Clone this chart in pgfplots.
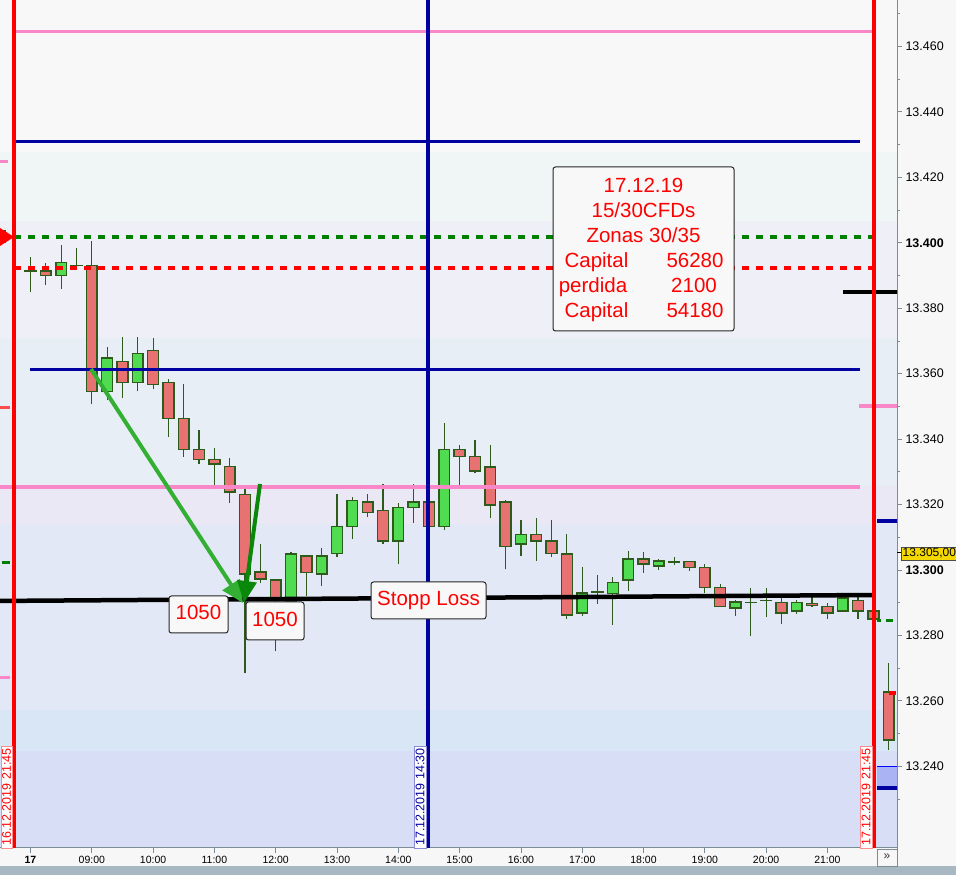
\documentclass[border=0pt]{standalone}
\usepackage{pgfplots}
\pgfplotsset{compat=1.18}
\usepackage{pgfplotstable}
\usepackage{fontspec}
\setmainfont{Liberation Sans}
\usetikzlibrary{arrows.meta}

\definecolor{wick}{HTML}{2E5A1C}
\definecolor{edge}{HTML}{2E5A1C}
\definecolor{rbody}{HTML}{E87272}
\definecolor{gbody}{HTML}{50DC50}
\definecolor{navy}{HTML}{0000A0}
\definecolor{pinkl}{HTML}{FA88C8}
\definecolor{dgreen}{HTML}{008000}
\definecolor{agreen}{HTML}{33B033}
\definecolor{agreen2}{HTML}{0A880A}
\definecolor{axgray}{HTML}{7C8C96}
\definecolor{bgc}{HTML}{F7F7F7}
\definecolor{toolbar}{HTML}{A8B8C2}
\definecolor{bone}{HTML}{F8F8F8}
\definecolor{btwo}{HTML}{EFF6F5}
\definecolor{bthree}{HTML}{EFEFF7}
\definecolor{bfour}{HTML}{E8EEF6}
\definecolor{bfive}{HTML}{EBE8F5}
\definecolor{bsix}{HTML}{E2E8F6}
\definecolor{bseven}{HTML}{D9E6F6}
\definecolor{beight}{HTML}{D8DEF6}
\definecolor{lblue}{HTML}{AAB4F4}
\definecolor{ylab}{HTML}{F5D800}
\definecolor{boxfill}{HTML}{F8F8F8}

\newcommand{\fsY}{\fontsize{12.5}{14}\selectfont}
\newcommand{\fsX}{\fontsize{10.5}{12}\selectfont}
\newcommand{\fsInfo}{\fontsize{20.5}{24}\selectfont}
\newcommand{\fsDate}{\fontsize{12.5}{14}\selectfont}

\pgfplotstableread{
t O H L C
7.50 13.4037 13.4045 13.3995 13.4000
8.00 13.3913 13.3956 13.3849 13.3913
8.25 13.3914 13.3937 13.3870 13.3900
8.50 13.3900 13.3992 13.3859 13.3940
8.75 13.3930 13.3985 13.3921 13.3930
9.00 13.3930 13.4005 13.3506 13.3546
9.25 13.3546 13.3681 13.3518 13.3647
9.50 13.3637 13.3711 13.3526 13.3573
9.75 13.3573 13.3711 13.3546 13.3662
10.00 13.3671 13.3708 13.3552 13.3567
10.25 13.3573 13.3585 13.3407 13.3463
10.50 13.3463 13.3568 13.3346 13.3368
10.75 13.3368 13.3427 13.3323 13.3338
11.00 13.3338 13.3372 13.3246 13.3324
11.25 13.3316 13.3341 13.3204 13.3239
11.50 13.3231 13.3246 13.2685 13.2988
11.75 13.2993 13.3079 13.2961 13.2972
12.00 13.2969 13.2972 13.2751 13.2908
12.25 13.2903 13.3054 13.2900 13.3049
12.50 13.3042 13.3042 13.2919 13.2993
12.75 13.2987 13.3067 13.2952 13.3042
13.00 13.3050 13.3231 13.3039 13.3133
13.25 13.3133 13.3222 13.3094 13.3213
13.50 13.3207 13.3231 13.3161 13.3176
13.75 13.3182 13.3262 13.3080 13.3089
14.00 13.3089 13.3204 13.3017 13.3191
14.25 13.3191 13.3262 13.3143 13.3207
14.50 13.3207 13.3215 13.3125 13.3133
14.75 13.3133 13.3448 13.3121 13.3368
15.00 13.3368 13.3381 13.3260 13.3347
15.25 13.3347 13.3396 13.3297 13.3303
15.50 13.3314 13.3381 13.3158 13.3198
15.75 13.3207 13.3213 13.3002 13.3072
16.00 13.3080 13.3152 13.3042 13.3109
16.25 13.3109 13.3158 13.3027 13.3089
16.50 13.3088 13.3152 13.3039 13.3050
16.75 13.3048 13.3110 13.2851 13.2862
17.00 13.2868 13.3009 13.2860 13.2929
17.25 13.2932 13.2985 13.2897 13.2932
17.50 13.2928 13.2979 13.2833 13.2962
17.75 13.2969 13.3058 13.2937 13.3033
18.00 13.3033 13.3055 13.2992 13.3019
18.25 13.3013 13.3033 13.3001 13.3027
18.50 13.3025 13.3040 13.3016 13.3025
18.75 13.3026 13.3026 13.2998 13.3008
19.00 13.3008 13.3017 13.2931 13.2947
19.25 13.2947 13.2957 13.2889 13.2889
19.50 13.2884 13.2907 13.2860 13.2902
19.75 13.2901 13.2944 13.2797 13.2901
20.00 13.2907 13.2944 13.2857 13.2907
20.25 13.2901 13.2917 13.2836 13.2868
20.50 13.2874 13.2907 13.2867 13.2901
20.75 13.2898 13.2917 13.2887 13.2892
21.00 13.2889 13.2898 13.2851 13.2868
21.25 13.2874 13.2917 13.2874 13.2914
21.50 13.2907 13.2917 13.2851 13.2874
21.75 13.2874 13.2874 13.2850 13.2850
22.00 13.2627 13.2716 13.2450 13.2481
}\candles

\pgfplotsset{
  common/.style={width=897pt, height=848pt, scale only axis,
    at={(0pt,0pt)}, anchor=south west, enlargelimits=false,
    xmin=7.50245, xmax=22.1354, ymin=13.21505, ymax=13.47417},
}

\begin{document}
\begin{tikzpicture}[x=1pt,y=1pt]
\fill[bgc] (0,-27) rectangle (956,848);
\fill[toolbar] (0,-27) rectangle (956,-18);

% --- background bands, wicks and open ticks (dojis)
\begin{axis}[common, hide axis]
\fill[bone]   (axis cs:7.4,13.42772) rectangle (axis cs:22.2,13.48);
\fill[btwo]   (axis cs:7.4,13.40664) rectangle (axis cs:22.2,13.42772);
\fill[bthree] (axis cs:7.4,13.37089) rectangle (axis cs:22.2,13.40664);
\fill[bfour]  (axis cs:7.4,13.32567) rectangle (axis cs:22.2,13.37089);
\fill[bfive]  (axis cs:7.4,13.31406) rectangle (axis cs:22.2,13.32567);
\fill[bsix]   (axis cs:7.4,13.25722) rectangle (axis cs:22.2,13.31406);
\fill[bseven] (axis cs:7.4,13.24469) rectangle (axis cs:22.2,13.25722);
\fill[beight] (axis cs:7.4,13.21)    rectangle (axis cs:22.2,13.24469);
\addplot[draw=none, mark=none, forget plot,
  error bars/.cd, y dir=plus, y explicit, error mark=none,
  error bar style={draw=wick, solid, line width=1.2pt}]
  table[x=t, y=L, y error expr=\thisrow{H}-\thisrow{L}] {\candles};
\addplot[draw=none, mark=none, forget plot,
  error bars/.cd, x dir=both, x fixed=0.1003, error mark=none,
  error bar style={draw=edge, solid, line width=1.6pt}]
  table[x=t, y=O] {\candles};
\end{axis}

% --- candle bodies
\begin{axis}[common, hide axis, ybar stacked, bar width=10.8pt]
\addplot[draw=none, fill=none, forget plot]
  table[x=t, y expr={min(\thisrow{O},\thisrow{C})}] {\candles};
\addplot[fill=rbody, draw=edge, line width=1.5pt]
  table[x=t, y expr={max(\thisrow{O}-\thisrow{C},0)}] {\candles};
\addplot[fill=gbody, draw=edge, line width=1.5pt]
  table[x=t, y expr={max(\thisrow{C}-\thisrow{O},0)}] {\candles};
\end{axis}

% --- front: levels, markers, axes
\begin{axis}[common,
  axis x line*=bottom, axis y line*=right,
  axis line style={draw=axgray, line width=1pt},
  tick align=outside, major tick length=5pt, minor tick length=3pt,
  tick style={draw=axgray, line width=0.8pt},
  xtick={8,9,10,11,12,13,14,15,16,17,18,19,20,21},
  xticklabels={\textbf{17},09:00,10:00,11:00,12:00,13:00,14:00,15:00,16:00,17:00,18:00,19:00,20:00,21:00},
  xticklabel style={font=\fsX},
  ytick={13.24,13.26,13.28,13.30,13.32,13.34,13.36,13.38,13.40,13.42,13.44,13.46},
  yticklabels={13.240,13.260,13.280,\textbf{13.300},13.320,13.340,13.360,13.380,\textbf{13.400},13.420,13.440,13.460},
  minor ytick={13.23,13.25,13.27,13.29,13.31,13.33,13.35,13.37,13.39,13.41,13.43,13.45,13.47},
  yticklabel style={font=\fsY, anchor=west},
]
\fill[lblue] (axis cs:21.808,13.23369) rectangle (axis cs:22.2,13.2398);
\addplot[blue, line width=1pt] coordinates {(21.808,13.2398) (22.2,13.2398)};
\addplot[pinkl, line width=3.5pt] coordinates {(7.731,13.4646) (21.777,13.4646)};
\addplot[navy, line width=3.5pt] coordinates {(7.731,13.4310) (21.532,13.4310)};
\addplot[dgreen, line width=3.5pt, dash pattern=on 7pt off 7pt] coordinates {(7.731,13.4017) (21.777,13.4017)};
\addplot[red, line width=3.5pt, dash pattern=on 7pt off 7pt] coordinates {(7.731,13.3922) (21.777,13.3922)};
\addplot[navy, line width=3.5pt] coordinates {(7.992,13.3612) (21.532,13.3612)};
\addplot[pinkl, line width=3.5pt] coordinates {(7.40,13.3253) (21.532,13.3253)};
\addplot[black, line width=4.5pt] coordinates {(7.40,13.29053) (21.777,13.29236)};
\addplot[pinkl, line width=3pt] coordinates {(7.40,13.42497) (7.64,13.42497)};
\addplot[red!70, line width=3pt] coordinates {(7.40,13.3495) (7.66,13.3495)};
\addplot[dgreen, line width=3pt] coordinates {(7.53,13.30244) (7.66,13.30244)};
\addplot[pinkl, line width=3pt] coordinates {(7.40,13.2673) (7.66,13.2673)};
\addplot[black, line width=3.5pt] coordinates {(21.254,13.3849) (22.2,13.3849)};
\addplot[pinkl, line width=3.5pt] coordinates {(21.515,13.3501) (22.2,13.3501)};
\addplot[navy, line width=3.5pt] coordinates {(21.808,13.3150) (22.2,13.3150)};
\addplot[navy, line width=3.5pt] coordinates {(21.808,13.2334) (22.2,13.2334)};
\addplot[dgreen, line width=3pt] coordinates {(21.808,13.2847) (21.873,13.2847)};
\addplot[dgreen, line width=3pt] coordinates {(21.955,13.2847) (22.069,13.2847)};
\addplot[red, line width=4pt] coordinates {(7.731,13.20) (7.731,13.48)};
\addplot[navy, line width=3.5pt] coordinates {(14.485,13.20) (14.485,13.48)};
\addplot[red, line width=4pt] coordinates {(21.76,13.20) (21.76,13.48)};
\end{axis}

% --- annotations in pixel coordinates (y down)
\begin{scope}[shift={(0,848)}, yscale=-1]
\fill[red] (889,691) rectangle (896,695);
\fill[red] (0,228) -- (14,237) -- (0,246) -- cycle;
\draw[agreen, line width=4pt, -{Triangle[length=22pt,width=20pt]}] (91,369) -- (243,603);
\draw[agreen2, line width=4pt, -{Triangle[length=22pt,width=19pt]}] (260,484) -- (244,603);
\draw[rounded corners=2.5pt, fill=boxfill, draw=black!85, line width=1pt] (169,596) rectangle (228,633);
\node[anchor=base, text=red, font=\fsInfo, inner sep=0pt] at (198.5,620) {1050};
\draw[rounded corners=2.5pt, fill=boxfill, draw=black!85, line width=1pt] (246,602) rectangle (304,640);
\node[anchor=base, text=red, font=\fsInfo, inner sep=0pt] at (275,626.5) {1050};
\draw[rounded corners=2.5pt, fill=boxfill, draw=black!85, line width=1pt] (371,582) rectangle (486,619);
\node[anchor=base, text=red, font=\fsInfo, inner sep=0pt] at (428.5,606) {Stopp Loss};
\draw[rounded corners=2.5pt, fill=boxfill, draw=black!85, line width=1pt] (553,167) rectangle (734,331);
\node[anchor=base, text=red, font=\fsInfo, inner sep=0pt] at (643.5,193) {17.12.19};
\node[anchor=base, text=red, font=\fsInfo, inner sep=0pt] at (643.5,218) {15/30CFDs};
\node[anchor=base, text=red, font=\fsInfo, inner sep=0pt] at (643.5,243) {Zonas 30/35};
\node[anchor=base, text=red, font=\fsInfo, inner sep=0pt] at (596.5,268) {Capital};
\node[anchor=base, text=red, font=\fsInfo, inner sep=0pt] at (695,268) {56280};
\node[anchor=base, text=red, font=\fsInfo, inner sep=0pt] at (593,293) {perdida};
\node[anchor=base, text=red, font=\fsInfo, inner sep=0pt] at (694,293) {2100};
\node[anchor=base, text=red, font=\fsInfo, inner sep=0pt] at (596.5,317.5) {Capital};
\node[anchor=base, text=red, font=\fsInfo, inner sep=0pt] at (695,317.5) {54180};
\node[rotate=90, anchor=south west, draw=red!45, fill=white, text=red, font=\fsDate, inner xsep=2pt, inner ysep=1.2pt, minimum width=90pt] at (12.5,848) {16.12.2019 21:45};
\node[rotate=90, anchor=south west, draw=navy!45, fill=white, text=navy, font=\fsDate, inner xsep=2pt, inner ysep=1.2pt, minimum width=90pt] at (426,848) {17.12.2019 14:30};
\node[rotate=90, anchor=south west, draw=red!45, fill=white, text=red, font=\fsDate, inner xsep=2pt, inner ysep=1.2pt, minimum width=90pt] at (872,848) {17.12.2019 21:45};
\draw[black, line width=1pt] (897,553) -- (903,553);
\node[anchor=west, fill=ylab, draw=black!70, inner sep=1.5pt, font=\fontsize{12}{13}\selectfont] at (901,553.5) {13.305,00};
\draw[axgray, line width=0.8pt] (897,848) -- (897,866);
\draw[axgray, fill=bgc, line width=0.8pt] (877,849) rectangle (897,866);
\node[font=\fontsize{12}{13}\selectfont, text=black!80] at (887,857) {»};
\end{scope}

\pgfresetboundingbox
\useasboundingbox (0,-27) rectangle (956,848);
\end{tikzpicture}
\end{document}
